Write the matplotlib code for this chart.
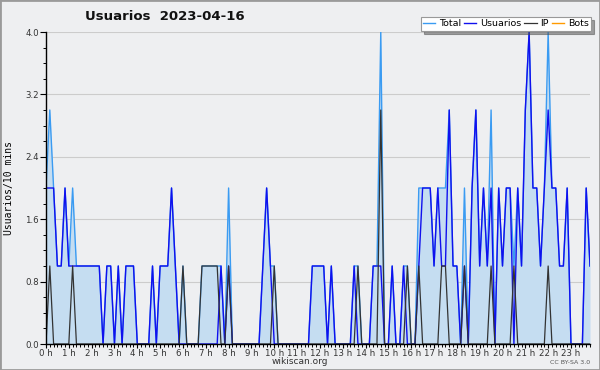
import matplotlib
matplotlib.use("Agg")
import matplotlib.pyplot as plt
from matplotlib.patches import Rectangle
from matplotlib.ticker import MultipleLocator, FixedLocator
import numpy as np

# 10-minute slots, 0:00 .. 23:50
hours = [f"{h} h" for h in range(24)]

usuarios = [2, 2, 2, 1, 1, 2, 1, 1, 1, 1,
            1, 1, 1, 1, 1, 0, 1, 1, 0, 1,
            0, 1, 1, 1, 0, 0, 0, 0, 1, 0,
            1, 1, 1, 2, 1, 0, 0, 0, 0, 0,
            0, 0, 0, 0, 0, 0, 1, 0, 1, 0,
            0, 0, 0, 0, 0, 0, 0, 1, 2, 1,
            0, 0, 0, 0, 0, 0, 0, 0, 0, 0,
            1, 1, 1, 1, 0, 1, 0, 0, 0, 0,
            0, 1, 0, 0, 0, 0, 1, 1, 1, 0,
            0, 1, 0, 0, 1, 0, 0, 0, 1, 2,
            2, 2, 1, 2, 1, 1, 3, 1, 1, 0,
            1, 0, 2, 3, 1, 2, 1, 2, 0, 2,
            1, 2, 2, 0, 2, 1, 3, 4, 2, 2,
            1, 2, 3, 2, 2, 1, 1, 2, 0, 0,
            0, 0, 2, 1]

ip = [0, 1, 0, 0, 0, 0, 0, 1, 0, 0,
      0, 0, 0, 0, 0, 0, 0, 0, 0, 0,
      0, 0, 0, 0, 0, 0, 0, 0, 0, 0,
      0, 0, 0, 0, 0, 0, 1, 0, 0, 0,
      0, 1, 1, 1, 1, 1, 0, 0, 1, 0,
      0, 0, 0, 0, 0, 0, 0, 0, 0, 0,
      1, 0, 0, 0, 0, 0, 0, 0, 0, 0,
      0, 0, 0, 0, 0, 0, 0, 0, 0, 0,
      0, 0, 1, 0, 0, 0, 0, 0, 3, 0,
      0, 0, 0, 0, 0, 1, 0, 0, 1, 0,
      0, 0, 0, 0, 1, 1, 0, 0, 0, 0,
      1, 0, 0, 0, 0, 0, 0, 1, 0, 0,
      0, 0, 0, 1, 0, 0, 0, 0, 0, 0,
      0, 0, 1, 0, 0, 0, 0, 0, 0, 0,
      0, 0, 0, 0]

total = [2, 3, 2, 1, 1, 2, 1, 2, 1, 1,
         1, 1, 1, 1, 1, 0, 1, 1, 0, 1,
         0, 1, 1, 1, 0, 0, 0, 0, 1, 0,
         1, 1, 1, 2, 1, 0, 1, 0, 0, 0,
         0, 1, 1, 1, 1, 1, 1, 0, 2, 0,
         0, 0, 0, 0, 0, 0, 0, 1, 2, 1,
         1, 0, 0, 0, 0, 0, 0, 0, 0, 0,
         1, 1, 1, 1, 0, 1, 0, 0, 0, 0,
         0, 1, 1, 0, 0, 0, 1, 1, 4, 0,
         0, 1, 0, 0, 1, 1, 0, 0, 2, 2,
         2, 2, 1, 2, 2, 2, 3, 1, 1, 0,
         2, 0, 2, 3, 1, 2, 1, 3, 0, 2,
         1, 2, 2, 1, 2, 1, 3, 4, 2, 2,
         1, 2, 4, 2, 2, 1, 1, 2, 0, 0,
         0, 0, 2, 1]

bots = [0] * 144

y_ticks = [0.0, 0.8, 1.6, 2.4, 3.2, 4.0]

t = np.arange(len(total)) / 6.0

BG = "#eeeff1"
fig = plt.figure(figsize=(6.0, 3.7), dpi=100, facecolor=BG)
ax = fig.add_axes([46 / 600, 1 - 344 / 370, 544 / 600, 312 / 370])
ax.set_facecolor(BG)

ax.fill_between(t, 0, total, color="#c5ddf1", zorder=1, linewidth=0)
ax.plot(t, total, color="#3a9bf2", lw=1.0, zorder=2, label="Total")
ax.plot(t, usuarios, color="#1010ee", lw=1.0, zorder=3, label="Usuarios")
ax.plot(t, ip, color="#333333", lw=0.9, zorder=4, label="IP")
ax.plot(t, bots, color="#ff9a00", lw=1.0, zorder=0.5, label="Bots")

ax.set_xlim(0, t[-1])
ax.set_ylim(0, 4.0)

ax.yaxis.set_major_locator(FixedLocator(y_ticks))
ax.yaxis.set_minor_locator(MultipleLocator(0.2))
ax.set_yticklabels([f"{v:.1f}" for v in y_ticks])
ax.xaxis.set_major_locator(FixedLocator(range(24)))
ax.set_xticklabels(hours)
ax.xaxis.set_minor_locator(MultipleLocator(1 / 6))

ax.grid(axis="y", color="#cccccc", lw=0.8, zorder=0)
ax.set_axisbelow(True)
for s in ("top", "right"):
    ax.spines[s].set_visible(False)
for s in ("left", "bottom"):
    ax.spines[s].set_color("black")
    ax.spines[s].set_linewidth(1.0)
    ax.spines[s].set_zorder(6)

ax.tick_params(axis="y", which="major", length=4, width=0.8, color="black",
               labelsize=6.2, labelcolor="#333333", pad=1)
ax.tick_params(axis="x", which="major", length=3, width=0.8, color="black",
               labelsize=6.2, labelcolor="#333333", pad=0.3)
ax.tick_params(axis="both", which="minor", length=2.2, width=0.7, color="black")

ax.set_ylabel("Usuarios/10 mins", fontsize=7, family="DejaVu Sans Mono", labelpad=8)

fig.text(85 / 600, 1 - 17 / 370, "Usuarios  2023-04-16", fontsize=9.5,
         fontweight="bold", ha="left", va="center", color="#111111")

leg = fig.legend(loc="upper right", bbox_to_anchor=(591 / 600, 1 - 17 / 370), ncol=4,
                 fontsize=6.8, frameon=True, fancybox=False, shadow=True,
                 handlelength=1.3, handletextpad=0.4, columnspacing=0.3,
                 borderpad=0.25, borderaxespad=0)
leg.get_frame().set_edgecolor("#999999")
leg.get_frame().set_linewidth(0.8)
leg.get_frame().set_facecolor("white")

fig.text(0.5, 1 - 362 / 370, "wikiscan.org", fontsize=6.5, ha="center", va="center",
         color="#333333")
fig.text(590 / 600, 1 - 363 / 370, "CC BY-SA 3.0", fontsize=4.5, ha="right",
         va="center", color="#555555")

fig.patches.append(Rectangle((0, 0), 1, 1, transform=fig.transFigure, fill=False,
                             edgecolor="#9a9a9a", linewidth=2.0))

fig.savefig("out.png", dpi=100, facecolor=BG)
